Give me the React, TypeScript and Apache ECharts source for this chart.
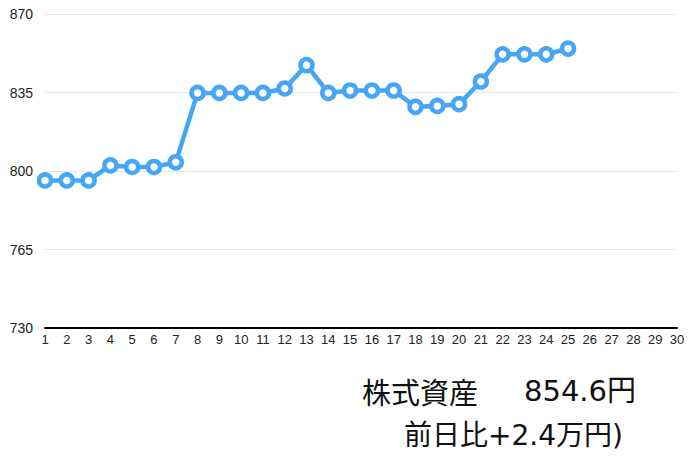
import React, { useEffect, useRef } from 'react';
import * as echarts from 'echarts';

// 日付 (1〜30日)
const days: string[] = Array.from({ length: 30 }, (_, i) => String(i + 1));

// 株式資産の推移 (万円) 1日〜25日
const assetValues: number[] = [
    795.8, 795.8, 795.8, 802.5, 801.8, 801.8, 803.9, 834.8, 834.8, 834.8,
    834.8, 836.8, 847.2, 834.8, 835.9, 835.9, 835.9, 828.6, 829.0, 829.8,
    839.9, 852.0, 852.0, 852.0, 854.6,
];

const yMin = 730;
const yMax = 870;
const yStep = 35;

const titleLabel = '株式資産';
const totalLabel = '854.6円';
const diffLabel = '前日比+2.4万円)';

const textFont = "'DejaVu Sans', 'Noto Sans CJK JP', sans-serif";

const App: React.FC = () => {
    const chartRef = useRef<HTMLDivElement>(null);

    useEffect(() => {
        if (!chartRef.current) return;
        const chart = echarts.init(chartRef.current, undefined, { renderer: 'svg' });

        const option = {
            animation: false,
            grid: { left: 45, right: 23, top: 14, bottom: 139 },
            xAxis: {
                type: 'category',
                data: days,
                boundaryGap: false,
                axisLine: { lineStyle: { color: '#000', width: 2 } },
                axisTick: { show: false },
                axisLabel: {
                    color: '#222',
                    fontSize: 13,
                    margin: 5,
                    interval: 0,
                    fontFamily: "'Liberation Sans Narrow', 'Liberation Sans', sans-serif",
                },
                splitLine: { show: false },
            },
            yAxis: {
                type: 'value',
                min: yMin,
                max: yMax,
                interval: yStep,
                axisLine: { show: false },
                axisTick: { show: false },
                axisLabel: {
                    color: '#222',
                    fontSize: 14,
                    margin: 12,
                    fontFamily: "'Liberation Sans', sans-serif",
                },
                splitLine: { lineStyle: { color: '#e6e6e6', width: 1 } },
            },
            series: [
                {
                    type: 'line',
                    data: assetValues,
                    symbol: 'circle',
                    symbolSize: 12,
                    lineStyle: { color: '#45a5f7', width: 4.5 },
                    itemStyle: { color: '#fff', borderColor: '#45a5f7', borderWidth: 4.5 },
                    z: 5,
                },
            ],
            graphic: [
                {
                    type: 'text',
                    left: 362,
                    top: 376,
                    style: {
                        text: titleLabel,
                        fontSize: 29,
                        fill: '#111',
                        fontFamily: "'Noto Sans CJK JP', sans-serif",
                    },
                },
                {
                    type: 'text',
                    right: 64,
                    top: 376,
                    style: {
                        text: totalLabel,
                        fontSize: 29,
                        fill: '#111',
                        fontFamily: textFont,
                    },
                },
                {
                    type: 'text',
                    left: 404,
                    top: 421,
                    style: {
                        text: diffLabel,
                        fontSize: 28,
                        fill: '#111',
                        fontFamily: textFont,
                    },
                },
            ],
        };

        chart.setOption(option);

        return () => {
            chart.dispose();
        };
    }, []);

    return (
        <div
            ref={chartRef}
            style={{ position: 'fixed', left: 0, top: 0, width: '700px', height: '467px', background: '#fff' }}
        />
    );
};

export default App;
